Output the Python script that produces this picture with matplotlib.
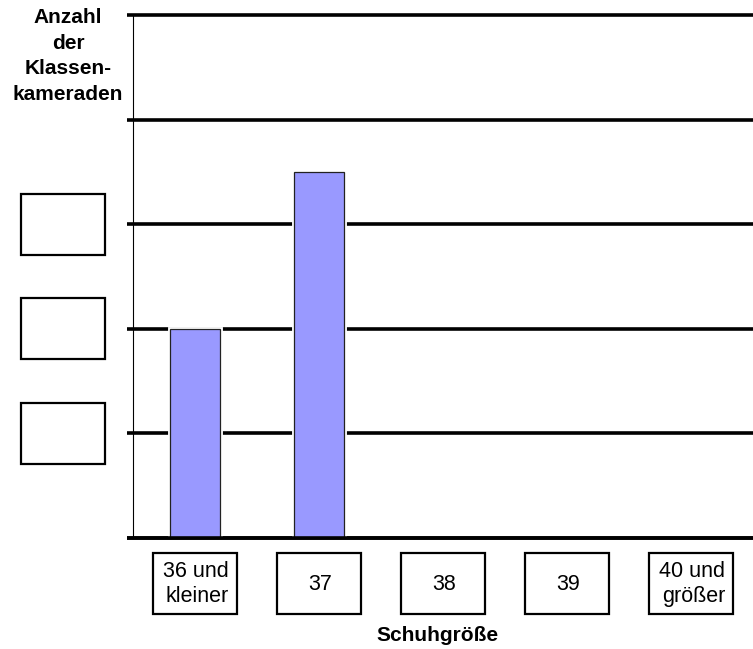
import matplotlib.pyplot as plt
from matplotlib.patches import Rectangle
from matplotlib.transforms import blended_transform_factory

# Daten des Arbeitsblatts
categories = ["36 und\nkleiner", "37", "38", "39", "40 und\ngrößer"]
counts = [2, 3.5, 0, 0, 0]
grid_levels = [0, 1, 2, 3, 4, 5]
answer_levels = [1, 2, 3]

plt.rcParams["font.family"] = ["Liberation Sans", "DejaVu Sans"]

fig = plt.figure(figsize=(7.53, 6.49), dpi=100)
ax = fig.add_axes([133 / 753, 111 / 649, 620 / 753, 523 / 649])
ax.set_xlim(-0.5, 4.5)
ax.set_ylim(0, 5)
ax.axis("off")

# Gitterlinien (ragen links etwas über die Achse hinaus)
gtrans = blended_transform_factory(ax.transAxes, ax.transData)
for lvl in grid_levels:
    ax.plot([-0.01, 1.0], [lvl, lvl], transform=gtrans, color="black",
            lw=2.6, solid_capstyle="butt", clip_on=False, zorder=1)

# dünne senkrechte Achse
ax.plot([0, 0], [0, 5], transform=gtrans, color="black", lw=0.8,
        clip_on=False, zorder=2)

# Balken mit weißem Rand, damit die Gitterlinien kurz davor enden
shown = [i for i, c in enumerate(counts) if c > 0]
heights = [counts[i] for i in shown]
ax.bar(shown, heights, width=0.4, color="#9999FF", edgecolor="white",
       linewidth=3.5, zorder=3)
ax.bar(shown, heights, width=0.4, color="#9999FF", edgecolor="#222222",
       linewidth=0.9, zorder=4)
# Grundlinie über den weißen Rändern
ax.plot([-0.01, 1.0], [0, 0], transform=gtrans, color="black",
        lw=2.6, solid_capstyle="butt", clip_on=False, zorder=5)

# Kästchen für die Schuhgrößen
xbox = blended_transform_factory(ax.transData, fig.transFigure)
for i, lab in enumerate(categories):
    ax.add_patch(Rectangle((i - 0.34, 35 / 649), 0.68, 61 / 649,
                           transform=xbox, fill=False, edgecolor="black",
                           lw=1.6, clip_on=False))
    ax.text(i + 0.01, 65 / 649, lab, transform=xbox, ha="center",
            va="center", multialignment="right", fontsize=15.5,
            linespacing=1.3)

# leere Kästchen für die Achsenbeschriftung
ybox = blended_transform_factory(fig.transFigure, ax.transData)
for lvl in answer_levels:
    ax.add_patch(Rectangle((21 / 753, lvl - 0.29), 84 / 753, 0.58,
                           transform=ybox, fill=False, edgecolor="black",
                           lw=1.6, clip_on=False))

fig.text(68 / 753, 1 - 8 / 649, "Anzahl\nder\nKlassen-\nkameraden",
         ha="center", va="top", fontsize=15, fontweight="bold",
         linespacing=1.45)
fig.text(437 / 753, 4 / 649, "Schuhgröße", ha="center", va="bottom",
         fontsize=15, fontweight="bold")

fig.savefig("out.png", dpi=100)
